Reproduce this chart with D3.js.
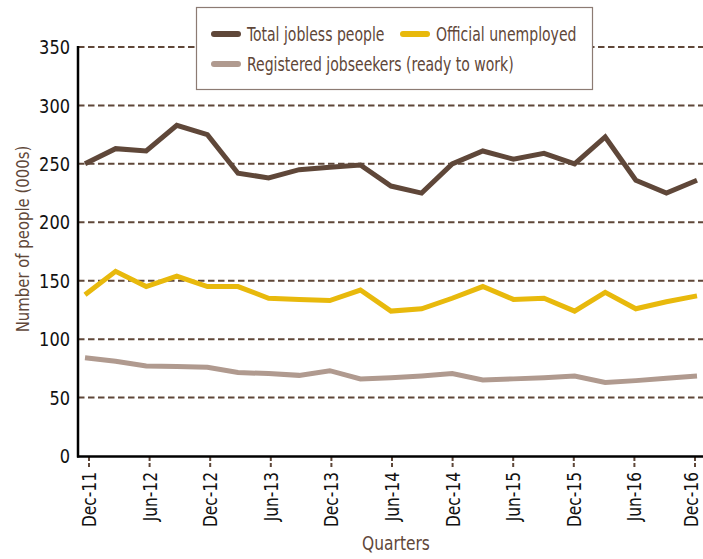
<!DOCTYPE html>
<html><head><meta charset="utf-8">
<script src="https://cdn.jsdelivr.net/npm/d3@7"></script>
<style>
html,body{margin:0;padding:0;background:#fff;}
svg{display:block;font-family:"Liberation Sans Narrow","DejaVu Sans Condensed","Roboto Condensed",sans-serif;}
</style></head>
<body>
<svg id="chart" width="703" height="559"></svg>
<script>
const quarters = ["Dec-11","Mar-12","Jun-12","Sep-12","Dec-12","Mar-13","Jun-13","Sep-13","Dec-13","Mar-14","Jun-14","Sep-14","Dec-14","Mar-15","Jun-15","Sep-15","Dec-15","Mar-16","Jun-16","Sep-16","Dec-16"];
const tickLabels = ["Dec-11","Jun-12","Dec-12","Jun-13","Dec-13","Jun-14","Dec-14","Jun-15","Dec-15","Jun-16","Dec-16"];
const totalJobless = [250,263,261,283,275,242,238,245,247,249,231,225,250,261,254,259,250,273,236,225,236];
const officialUnemployed = [138,158,145,154,145,145,135,134,133,142,124,126,135,145,134,135,124,140,126,132,137];
const registeredJobseekers = [84,81,77,76.5,76,71.5,70.5,69,73,66,67,68.5,70.5,65,66,67,68.5,63,64.5,66.5,68.5];
const yTicks = [0,50,100,150,200,250,300,350];
const seriesNames = ["Total jobless people","Official unemployed","Registered jobseekers (ready to work)"];

const colors = {total:"#5f4739", official:"#e8b90c", registered:"#b09a8f"};
const svg = d3.select("#chart");

const y = d3.scaleLinear().domain([0,350]).range([456,47]);
const xLine = d3.scalePoint().domain(quarters).range([85,697]);
const xAxis = d3.scalePoint().domain(quarters).range([89,695]);

// gridlines
svg.append("g").selectAll("line").data(yTicks.filter(d=>d>0)).join("line")
  .attr("x1",78).attr("x2",703)
  .attr("y1",d=>y(d)).attr("y2",d=>y(d))
  .attr("stroke","#5f4739").attr("stroke-width",2).attr("stroke-dasharray","6.5,3.5");

// y tick labels
svg.append("g").selectAll("text").data(yTicks).join("text")
  .attr("transform",d=>`translate(70,${y(d)}) scale(0.9,1)`)
  .attr("dy","0.36em")
  .attr("text-anchor","end").attr("font-size",20).attr("fill","#111")
  .text(d=>d);

// x ticks
svg.append("g").selectAll("line").data(tickLabels).join("line")
  .attr("x1",d=>xAxis(d)).attr("x2",d=>xAxis(d))
  .attr("y1",457).attr("y2",467)
  .attr("stroke","#5f4739").attr("stroke-width",2).attr("stroke-dasharray","4,2");

svg.append("g").selectAll("text").data(tickLabels).join("text")
  .attr("transform",d=>`translate(${Math.min(xAxis(d),691)},472) rotate(-90) scale(0.88,1)`)
  .attr("text-anchor","end").attr("dy","0.36em")
  .attr("font-size",19.5).attr("fill","#111")
  .text(d=>d);

// series lines
const line = d3.line().x((d,i)=>xLine(quarters[i])).y(d=>y(d));
[[registeredJobseekers,colors.registered],[officialUnemployed,colors.official],[totalJobless,colors.total]].forEach(([data,c])=>{
  svg.append("path").datum(data).attr("d",line)
    .attr("fill","none").attr("stroke",c).attr("stroke-width",5)
    .attr("stroke-linejoin","miter");
});

// axes lines
svg.append("line").attr("x1",78).attr("x2",78).attr("y1",46).attr("y2",457.5)
  .attr("stroke","#000").attr("stroke-width",2.5);
svg.append("line").attr("x1",77).attr("x2",703).attr("y1",456.5).attr("y2",456.5)
  .attr("stroke","#000").attr("stroke-width",2.5);

// axis titles
svg.append("text").attr("transform","translate(29,239) rotate(-90) scale(0.92,1)")
  .attr("text-anchor","middle").attr("font-size",18).attr("fill","#5f4739")
  .text("Number of people (000s)");
svg.append("text").attr("transform","translate(396,550) scale(0.86,1)")
  .attr("text-anchor","middle").attr("font-size",20).attr("fill","#5f4739")
  .text("Quarters");

// legend
const lg = svg.append("g");
lg.append("rect").attr("x",196.5).attr("y",7.5).attr("width",396).attr("height",82)
  .attr("fill","#fff").attr("stroke","#8c7b73").attr("stroke-width",1.2);
const legendItems = [
  {name:seriesNames[0], c:colors.total, x:214, y:34},
  {name:seriesNames[1], c:colors.official, x:403, y:34},
  {name:seriesNames[2], c:colors.registered, x:214, y:64}
];
legendItems.forEach(it=>{
  lg.append("line").attr("x1",it.x).attr("x2",it.x+24).attr("y1",it.y).attr("y2",it.y)
    .attr("stroke",it.c).attr("stroke-width",6).attr("stroke-linecap","round");
  lg.append("text").attr("transform",`translate(${it.x+33},${it.y}) scale(0.78,1)`)
    .attr("dy","0.35em")
    .attr("font-size",20).attr("fill","#5f4739").text(it.name);
});
</script>
</body></html>
